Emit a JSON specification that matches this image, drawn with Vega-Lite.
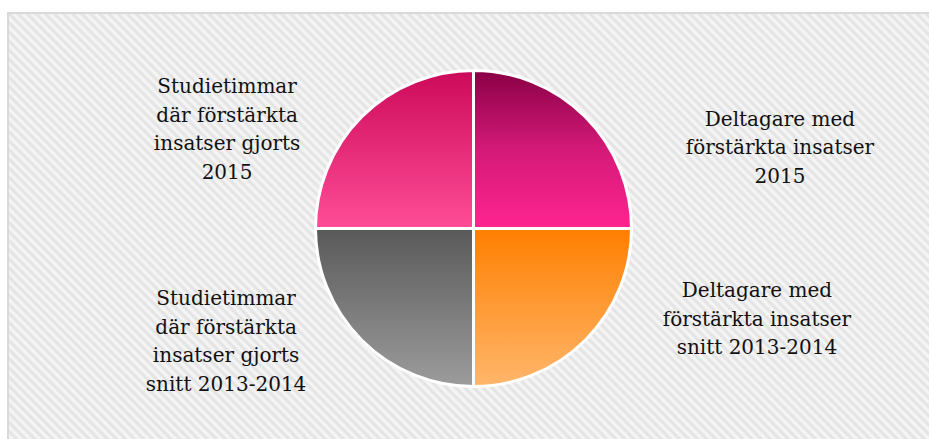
{
  "$schema": "https://vega.github.io/schema/vega-lite/v6.json",
  "autosize": {"type": "none"},
  "width": 931,
  "height": 431,
  "padding": {"left": 8, "top": 13, "right": 0, "bottom": 0},
  "background": "#ffffff",
  "config": {
    "view": {"stroke": null},
    "text": {"font": "DejaVu Serif", "fontSize": 20, "lineHeight": 28.5, "color": "#111111"}
  },
  "data": {
    "values": [
      {"order": 1, "name": "Deltagare 2015", "label": "Deltagare med\nförstärkta insatser\n2015", "value": 1},
      {"order": 2, "name": "Deltagare snitt", "label": "Deltagare med\nförstärkta insatser\nsnitt 2013-2014", "value": 1},
      {"order": 3, "name": "Studietimmar snitt", "label": "Studietimmar\ndär förstärkta\ninsatser gjorts\nsnitt 2013-2014", "value": 1},
      {"order": 4, "name": "Studietimmar 2015", "label": "Studietimmar\ndär förstärkta\ninsatser gjorts\n2015", "value": 1}
    ]
  },
  "transform": [
    {"stack": "value", "groupby": [], "sort": [{"field": "order", "order": "ascending"}], "as": ["t0", "t1"]},
    {"calculate": "(datum.t0 + datum.t1) / 2", "as": "mid"}
  ],
  "layer": [
    {
      "transform": [{"filter": "datum.order == 1"}],
      "mark": {"type": "rect", "stroke": "#d9d9d9", "strokeWidth": 2,
        "fill": {"gradient": "linear", "x1": 0, "y1": 1, "x2": 1.2047, "y2": 0.4423, "stops": [
{"offset":0,"color":"#f8f8f8"},{"offset":0.0033,"color":"#e1e1e1"},{"offset":0.0067,"color":"#f8f8f8"},
{"offset":0.01,"color":"#e1e1e1"},{"offset":0.0133,"color":"#f8f8f8"},{"offset":0.0167,"color":"#e1e1e1"},
{"offset":0.02,"color":"#f8f8f8"},{"offset":0.0233,"color":"#e1e1e1"},{"offset":0.0267,"color":"#f8f8f8"},
{"offset":0.03,"color":"#e1e1e1"},{"offset":0.0333,"color":"#f8f8f8"},{"offset":0.0367,"color":"#e1e1e1"},
{"offset":0.04,"color":"#f8f8f8"},{"offset":0.0433,"color":"#e1e1e1"},{"offset":0.0467,"color":"#f8f8f8"},
{"offset":0.05,"color":"#e1e1e1"},{"offset":0.0533,"color":"#f8f8f8"},{"offset":0.0567,"color":"#e1e1e1"},
{"offset":0.06,"color":"#f8f8f8"},{"offset":0.0633,"color":"#e1e1e1"},{"offset":0.0667,"color":"#f8f8f8"},
{"offset":0.07,"color":"#e1e1e1"},{"offset":0.0733,"color":"#f8f8f8"},{"offset":0.0767,"color":"#e1e1e1"},
{"offset":0.08,"color":"#f8f8f8"},{"offset":0.0833,"color":"#e1e1e1"},{"offset":0.0867,"color":"#f8f8f8"},
{"offset":0.09,"color":"#e1e1e1"},{"offset":0.0933,"color":"#f8f8f8"},{"offset":0.0967,"color":"#e1e1e1"},
{"offset":0.10,"color":"#f8f8f8"},{"offset":0.1033,"color":"#e1e1e1"},{"offset":0.1067,"color":"#f8f8f8"},
{"offset":0.11,"color":"#e1e1e1"},{"offset":0.1133,"color":"#f8f8f8"},{"offset":0.1167,"color":"#e1e1e1"},
{"offset":0.12,"color":"#f8f8f8"},{"offset":0.1233,"color":"#e1e1e1"},{"offset":0.1267,"color":"#f8f8f8"},
{"offset":0.13,"color":"#e1e1e1"},{"offset":0.1333,"color":"#f8f8f8"},{"offset":0.1367,"color":"#e1e1e1"},
{"offset":0.14,"color":"#f8f8f8"},{"offset":0.1433,"color":"#e1e1e1"},{"offset":0.1467,"color":"#f8f8f8"},
{"offset":0.15,"color":"#e1e1e1"},{"offset":0.1533,"color":"#f8f8f8"},{"offset":0.1567,"color":"#e1e1e1"},
{"offset":0.16,"color":"#f8f8f8"},{"offset":0.1633,"color":"#e1e1e1"},{"offset":0.1667,"color":"#f8f8f8"},
{"offset":0.17,"color":"#e1e1e1"},{"offset":0.1733,"color":"#f8f8f8"},{"offset":0.1767,"color":"#e1e1e1"},
{"offset":0.18,"color":"#f8f8f8"},{"offset":0.1833,"color":"#e1e1e1"},{"offset":0.1867,"color":"#f8f8f8"},
{"offset":0.19,"color":"#e1e1e1"},{"offset":0.1933,"color":"#f8f8f8"},{"offset":0.1967,"color":"#e1e1e1"},
{"offset":0.20,"color":"#f8f8f8"},{"offset":0.2033,"color":"#e1e1e1"},{"offset":0.2067,"color":"#f8f8f8"},
{"offset":0.21,"color":"#e1e1e1"},{"offset":0.2133,"color":"#f8f8f8"},{"offset":0.2167,"color":"#e1e1e1"},
{"offset":0.22,"color":"#f8f8f8"},{"offset":0.2233,"color":"#e1e1e1"},{"offset":0.2267,"color":"#f8f8f8"},
{"offset":0.23,"color":"#e1e1e1"},{"offset":0.2333,"color":"#f8f8f8"},{"offset":0.2367,"color":"#e1e1e1"},
{"offset":0.24,"color":"#f8f8f8"},{"offset":0.2433,"color":"#e1e1e1"},{"offset":0.2467,"color":"#f8f8f8"},
{"offset":0.25,"color":"#e1e1e1"},{"offset":0.2533,"color":"#f8f8f8"},{"offset":0.2567,"color":"#e1e1e1"},
{"offset":0.26,"color":"#f8f8f8"},{"offset":0.2633,"color":"#e1e1e1"},{"offset":0.2667,"color":"#f8f8f8"},
{"offset":0.27,"color":"#e1e1e1"},{"offset":0.2733,"color":"#f8f8f8"},{"offset":0.2767,"color":"#e1e1e1"},
{"offset":0.28,"color":"#f8f8f8"},{"offset":0.2833,"color":"#e1e1e1"},{"offset":0.2867,"color":"#f8f8f8"},
{"offset":0.29,"color":"#e1e1e1"},{"offset":0.2933,"color":"#f8f8f8"},{"offset":0.2967,"color":"#e1e1e1"},
{"offset":0.30,"color":"#f8f8f8"},{"offset":0.3033,"color":"#e1e1e1"},{"offset":0.3067,"color":"#f8f8f8"},
{"offset":0.31,"color":"#e1e1e1"},{"offset":0.3133,"color":"#f8f8f8"},{"offset":0.3167,"color":"#e1e1e1"},
{"offset":0.32,"color":"#f8f8f8"},{"offset":0.3233,"color":"#e1e1e1"},{"offset":0.3267,"color":"#f8f8f8"},
{"offset":0.33,"color":"#e1e1e1"},{"offset":0.3333,"color":"#f8f8f8"},{"offset":0.3367,"color":"#e1e1e1"},
{"offset":0.34,"color":"#f8f8f8"},{"offset":0.3433,"color":"#e1e1e1"},{"offset":0.3467,"color":"#f8f8f8"},
{"offset":0.35,"color":"#e1e1e1"},{"offset":0.3533,"color":"#f8f8f8"},{"offset":0.3567,"color":"#e1e1e1"},
{"offset":0.36,"color":"#f8f8f8"},{"offset":0.3633,"color":"#e1e1e1"},{"offset":0.3667,"color":"#f8f8f8"},
{"offset":0.37,"color":"#e1e1e1"},{"offset":0.3733,"color":"#f8f8f8"},{"offset":0.3767,"color":"#e1e1e1"},
{"offset":0.38,"color":"#f8f8f8"},{"offset":0.3833,"color":"#e1e1e1"},{"offset":0.3867,"color":"#f8f8f8"},
{"offset":0.39,"color":"#e1e1e1"},{"offset":0.3933,"color":"#f8f8f8"},{"offset":0.3967,"color":"#e1e1e1"},
{"offset":0.40,"color":"#f8f8f8"},{"offset":0.4033,"color":"#e1e1e1"},{"offset":0.4067,"color":"#f8f8f8"},
{"offset":0.41,"color":"#e1e1e1"},{"offset":0.4133,"color":"#f8f8f8"},{"offset":0.4167,"color":"#e1e1e1"},
{"offset":0.42,"color":"#f8f8f8"},{"offset":0.4233,"color":"#e1e1e1"},{"offset":0.4267,"color":"#f8f8f8"},
{"offset":0.43,"color":"#e1e1e1"},{"offset":0.4333,"color":"#f8f8f8"},{"offset":0.4367,"color":"#e1e1e1"},
{"offset":0.44,"color":"#f8f8f8"},{"offset":0.4433,"color":"#e1e1e1"},{"offset":0.4467,"color":"#f8f8f8"},
{"offset":0.45,"color":"#e1e1e1"},{"offset":0.4533,"color":"#f8f8f8"},{"offset":0.4567,"color":"#e1e1e1"},
{"offset":0.46,"color":"#f8f8f8"},{"offset":0.4633,"color":"#e1e1e1"},{"offset":0.4667,"color":"#f8f8f8"},
{"offset":0.47,"color":"#e1e1e1"},{"offset":0.4733,"color":"#f8f8f8"},{"offset":0.4767,"color":"#e1e1e1"},
{"offset":0.48,"color":"#f8f8f8"},{"offset":0.4833,"color":"#e1e1e1"},{"offset":0.4867,"color":"#f8f8f8"},
{"offset":0.49,"color":"#e1e1e1"},{"offset":0.4933,"color":"#f8f8f8"},{"offset":0.4967,"color":"#e1e1e1"},
{"offset":0.50,"color":"#f8f8f8"},{"offset":0.5033,"color":"#e1e1e1"},{"offset":0.5067,"color":"#f8f8f8"},
{"offset":0.51,"color":"#e1e1e1"},{"offset":0.5133,"color":"#f8f8f8"},{"offset":0.5167,"color":"#e1e1e1"},
{"offset":0.52,"color":"#f8f8f8"},{"offset":0.5233,"color":"#e1e1e1"},{"offset":0.5267,"color":"#f8f8f8"},
{"offset":0.53,"color":"#e1e1e1"},{"offset":0.5333,"color":"#f8f8f8"},{"offset":0.5367,"color":"#e1e1e1"},
{"offset":0.54,"color":"#f8f8f8"},{"offset":0.5433,"color":"#e1e1e1"},{"offset":0.5467,"color":"#f8f8f8"},
{"offset":0.55,"color":"#e1e1e1"},{"offset":0.5533,"color":"#f8f8f8"},{"offset":0.5567,"color":"#e1e1e1"},
{"offset":0.56,"color":"#f8f8f8"},{"offset":0.5633,"color":"#e1e1e1"},{"offset":0.5667,"color":"#f8f8f8"},
{"offset":0.57,"color":"#e1e1e1"},{"offset":0.5733,"color":"#f8f8f8"},{"offset":0.5767,"color":"#e1e1e1"},
{"offset":0.58,"color":"#f8f8f8"},{"offset":0.5833,"color":"#e1e1e1"},{"offset":0.5867,"color":"#f8f8f8"},
{"offset":0.59,"color":"#e1e1e1"},{"offset":0.5933,"color":"#f8f8f8"},{"offset":0.5967,"color":"#e1e1e1"},
{"offset":0.60,"color":"#f8f8f8"},{"offset":0.6033,"color":"#e1e1e1"},{"offset":0.6067,"color":"#f8f8f8"},
{"offset":0.61,"color":"#e1e1e1"},{"offset":0.6133,"color":"#f8f8f8"},{"offset":0.6167,"color":"#e1e1e1"},
{"offset":0.62,"color":"#f8f8f8"},{"offset":0.6233,"color":"#e1e1e1"},{"offset":0.6267,"color":"#f8f8f8"},
{"offset":0.63,"color":"#e1e1e1"},{"offset":0.6333,"color":"#f8f8f8"},{"offset":0.6367,"color":"#e1e1e1"},
{"offset":0.64,"color":"#f8f8f8"},{"offset":0.6433,"color":"#e1e1e1"},{"offset":0.6467,"color":"#f8f8f8"},
{"offset":0.65,"color":"#e1e1e1"},{"offset":0.6533,"color":"#f8f8f8"},{"offset":0.6567,"color":"#e1e1e1"},
{"offset":0.66,"color":"#f8f8f8"},{"offset":0.6633,"color":"#e1e1e1"},{"offset":0.6667,"color":"#f8f8f8"},
{"offset":0.67,"color":"#e1e1e1"},{"offset":0.6733,"color":"#f8f8f8"},{"offset":0.6767,"color":"#e1e1e1"},
{"offset":0.68,"color":"#f8f8f8"},{"offset":0.6833,"color":"#e1e1e1"},{"offset":0.6867,"color":"#f8f8f8"},
{"offset":0.69,"color":"#e1e1e1"},{"offset":0.6933,"color":"#f8f8f8"},{"offset":0.6967,"color":"#e1e1e1"},
{"offset":0.70,"color":"#f8f8f8"},{"offset":0.7033,"color":"#e1e1e1"},{"offset":0.7067,"color":"#f8f8f8"},
{"offset":0.71,"color":"#e1e1e1"},{"offset":0.7133,"color":"#f8f8f8"},{"offset":0.7167,"color":"#e1e1e1"},
{"offset":0.72,"color":"#f8f8f8"},{"offset":0.7233,"color":"#e1e1e1"},{"offset":0.7267,"color":"#f8f8f8"},
{"offset":0.73,"color":"#e1e1e1"},{"offset":0.7333,"color":"#f8f8f8"},{"offset":0.7367,"color":"#e1e1e1"},
{"offset":0.74,"color":"#f8f8f8"},{"offset":0.7433,"color":"#e1e1e1"},{"offset":0.7467,"color":"#f8f8f8"},
{"offset":0.75,"color":"#e1e1e1"},{"offset":0.7533,"color":"#f8f8f8"},{"offset":0.7567,"color":"#e1e1e1"},
{"offset":0.76,"color":"#f8f8f8"},{"offset":0.7633,"color":"#e1e1e1"},{"offset":0.7667,"color":"#f8f8f8"},
{"offset":0.77,"color":"#e1e1e1"},{"offset":0.7733,"color":"#f8f8f8"},{"offset":0.7767,"color":"#e1e1e1"},
{"offset":0.78,"color":"#f8f8f8"},{"offset":0.7833,"color":"#e1e1e1"},{"offset":0.7867,"color":"#f8f8f8"},
{"offset":0.79,"color":"#e1e1e1"},{"offset":0.7933,"color":"#f8f8f8"},{"offset":0.7967,"color":"#e1e1e1"},
{"offset":0.80,"color":"#f8f8f8"},{"offset":0.8033,"color":"#e1e1e1"},{"offset":0.8067,"color":"#f8f8f8"},
{"offset":0.81,"color":"#e1e1e1"},{"offset":0.8133,"color":"#f8f8f8"},{"offset":0.8167,"color":"#e1e1e1"},
{"offset":0.82,"color":"#f8f8f8"},{"offset":0.8233,"color":"#e1e1e1"},{"offset":0.8267,"color":"#f8f8f8"},
{"offset":0.83,"color":"#e1e1e1"},{"offset":0.8333,"color":"#f8f8f8"},{"offset":0.8367,"color":"#e1e1e1"},
{"offset":0.84,"color":"#f8f8f8"},{"offset":0.8433,"color":"#e1e1e1"},{"offset":0.8467,"color":"#f8f8f8"},
{"offset":0.85,"color":"#e1e1e1"},{"offset":0.8533,"color":"#f8f8f8"},{"offset":0.8567,"color":"#e1e1e1"},
{"offset":0.86,"color":"#f8f8f8"},{"offset":0.8633,"color":"#e1e1e1"},{"offset":0.8667,"color":"#f8f8f8"},
{"offset":0.87,"color":"#e1e1e1"},{"offset":0.8733,"color":"#f8f8f8"},{"offset":0.8767,"color":"#e1e1e1"},
{"offset":0.88,"color":"#f8f8f8"},{"offset":0.8833,"color":"#e1e1e1"},{"offset":0.8867,"color":"#f8f8f8"},
{"offset":0.89,"color":"#e1e1e1"},{"offset":0.8933,"color":"#f8f8f8"},{"offset":0.8967,"color":"#e1e1e1"},
{"offset":0.90,"color":"#f8f8f8"},{"offset":0.9033,"color":"#e1e1e1"},{"offset":0.9067,"color":"#f8f8f8"},
{"offset":0.91,"color":"#e1e1e1"},{"offset":0.9133,"color":"#f8f8f8"},{"offset":0.9167,"color":"#e1e1e1"},
{"offset":0.92,"color":"#f8f8f8"},{"offset":0.9233,"color":"#e1e1e1"},{"offset":0.9267,"color":"#f8f8f8"},
{"offset":0.93,"color":"#e1e1e1"},{"offset":0.9333,"color":"#f8f8f8"},{"offset":0.9367,"color":"#e1e1e1"},
{"offset":0.94,"color":"#f8f8f8"},{"offset":0.9433,"color":"#e1e1e1"},{"offset":0.9467,"color":"#f8f8f8"},
{"offset":0.95,"color":"#e1e1e1"},{"offset":0.9533,"color":"#f8f8f8"},{"offset":0.9567,"color":"#e1e1e1"},
{"offset":0.96,"color":"#f8f8f8"},{"offset":0.9633,"color":"#e1e1e1"},{"offset":0.9667,"color":"#f8f8f8"},
{"offset":0.97,"color":"#e1e1e1"},{"offset":0.9733,"color":"#f8f8f8"},{"offset":0.9767,"color":"#e1e1e1"},
{"offset":0.98,"color":"#f8f8f8"},{"offset":0.9833,"color":"#e1e1e1"},{"offset":0.9867,"color":"#f8f8f8"},
{"offset":0.99,"color":"#e1e1e1"},{"offset":0.9933,"color":"#f8f8f8"},{"offset":0.9967,"color":"#e1e1e1"},
{"offset":1,"color":"#f8f8f8"}
        ]}},
      "encoding": {}
    },
    {
      "transform": [{"filter": "datum.order == 1"}],
      "mark": {"type": "arc", "radius": 158, "stroke": "#ffffff", "strokeWidth": 3,
        "color": {"gradient": "linear", "x1": 0, "y1": 0, "x2": 0, "y2": 1,
          "stops": [{"offset": 0, "color": "#8a0046"}, {"offset": 0.5, "color": "#d41a78"}, {"offset": 1, "color": "#ff2490"}]}},
      "encoding": {
        "theta": {"field": "t0", "type": "quantitative", "scale": {"domain": [0, 4]}},
        "theta2": {"field": "t1"}
      }
    },
    {
      "transform": [{"filter": "datum.order == 2"}],
      "mark": {"type": "arc", "radius": 158, "stroke": "#ffffff", "strokeWidth": 3,
        "color": {"gradient": "linear", "x1": 0, "y1": 0, "x2": 0, "y2": 1,
          "stops": [{"offset": 0, "color": "#ff7f00"}, {"offset": 1, "color": "#ffb66b"}]}},
      "encoding": {
        "theta": {"field": "t0", "type": "quantitative", "scale": {"domain": [0, 4]}},
        "theta2": {"field": "t1"}
      }
    },
    {
      "transform": [{"filter": "datum.order == 3"}],
      "mark": {"type": "arc", "radius": 158, "stroke": "#ffffff", "strokeWidth": 3,
        "color": {"gradient": "linear", "x1": 0, "y1": 0, "x2": 0, "y2": 1,
          "stops": [{"offset": 0, "color": "#595959"}, {"offset": 1, "color": "#9c9c9c"}]}},
      "encoding": {
        "theta": {"field": "t0", "type": "quantitative", "scale": {"domain": [0, 4]}},
        "theta2": {"field": "t1"}
      }
    },
    {
      "transform": [{"filter": "datum.order == 4"}],
      "mark": {"type": "arc", "radius": 158, "stroke": "#ffffff", "strokeWidth": 3,
        "color": {"gradient": "linear", "x1": 0, "y1": 0, "x2": 0, "y2": 1,
          "stops": [{"offset": 0, "color": "#cc0a5a"}, {"offset": 1, "color": "#ff4d98"}]}},
      "encoding": {
        "theta": {"field": "t0", "type": "quantitative", "scale": {"domain": [0, 4]}},
        "theta2": {"field": "t1"}
      }
    },
    {
      "transform": [{"filter": "datum.order == 1"}],
      "mark": {"type": "text", "radius": 200, "dx": 165, "dy": 32.5, "align": "center", "baseline": "middle", "lineBreak": "\n"},
      "encoding": {
        "theta": {"field": "mid", "type": "quantitative", "scale": {"domain": [0, 4]}},
        "text": {"field": "label", "type": "nominal"}
      }
    },
    {
      "transform": [{"filter": "datum.order == 2"}],
      "mark": {"type": "text", "radius": 200, "dx": 142, "dy": -78.5, "align": "center", "baseline": "middle", "lineBreak": "\n"},
      "encoding": {
        "theta": {"field": "mid", "type": "quantitative", "scale": {"domain": [0, 4]}},
        "text": {"field": "label", "type": "nominal"}
      }
    },
    {
      "transform": [{"filter": "datum.order == 3"}],
      "mark": {"type": "text", "radius": 200, "dx": -106, "dy": -70.75, "align": "center", "baseline": "middle", "lineBreak": "\n"},
      "encoding": {
        "theta": {"field": "mid", "type": "quantitative", "scale": {"domain": [0, 4]}},
        "text": {"field": "label", "type": "nominal"}
      }
    },
    {
      "transform": [{"filter": "datum.order == 4"}],
      "mark": {"type": "text", "radius": 200, "dx": -105, "dy": 0.25, "align": "center", "baseline": "middle", "lineBreak": "\n"},
      "encoding": {
        "theta": {"field": "mid", "type": "quantitative", "scale": {"domain": [0, 4]}},
        "text": {"field": "label", "type": "nominal"}
      }
    }
  ]
}
